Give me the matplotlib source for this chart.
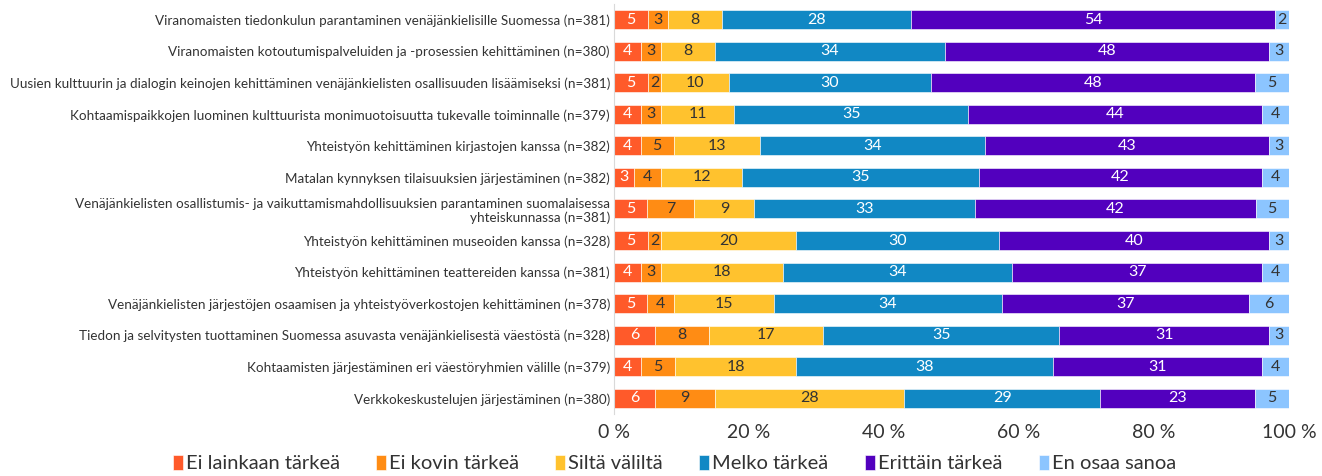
import matplotlib.pyplot as plt
import numpy as np

plt.rcParams['font.family'] = ['Lato', 'DejaVu Sans']

categories = [
    "Viranomaisten tiedonkulun parantaminen venäjänkielisille Suomessa (n=381)",
    "Viranomaisten kotoutumispalveluiden ja -prosessien kehittäminen (n=380)",
    "Uusien kulttuurin ja dialogin keinojen kehittäminen venäjänkielisten osallisuuden lisäämiseksi (n=381)",
    "Kohtaamispaikkojen luominen kulttuurista monimuotoisuutta tukevalle toiminnalle (n=379)",
    "Yhteistyön kehittäminen kirjastojen kanssa (n=382)",
    "Matalan kynnyksen tilaisuuksien järjestäminen (n=382)",
    "Venäjänkielisten osallistumis- ja vaikuttamismahdollisuuksien parantaminen suomalaisessa\nyhteiskunnassa (n=381)",
    "Yhteistyön kehittäminen museoiden kanssa (n=328)",
    "Yhteistyön kehittäminen teattereiden kanssa (n=381)",
    "Venäjänkielisten järjestöjen osaamisen ja yhteistyöverkostojen kehittäminen (n=378)",
    "Tiedon ja selvitysten tuottaminen Suomessa asuvasta venäjänkielisestä väestöstä (n=328)",
    "Kohtaamisten järjestäminen eri väestöryhmien välille (n=379)",
    "Verkkokeskustelujen järjestäminen (n=380)",
]

ei_lainkaan = [5, 4, 5, 4, 4, 3, 5, 5, 4, 5, 6, 4, 6]
ei_kovin = [3, 3, 2, 3, 5, 4, 7, 2, 3, 4, 8, 5, 9]
silta = [8, 8, 10, 11, 13, 12, 9, 20, 18, 15, 17, 18, 28]
melko = [28, 34, 30, 35, 34, 35, 33, 30, 34, 34, 35, 38, 29]
erittain = [54, 48, 48, 44, 43, 42, 42, 40, 37, 37, 31, 31, 23]
en_osaa = [2, 3, 5, 4, 3, 4, 5, 3, 4, 6, 3, 4, 5]

series_names = ["Ei lainkaan tärkeä", "Ei kovin tärkeä", "Siltä väliltä",
                "Melko tärkeä", "Erittäin tärkeä", "En osaa sanoa"]
colors = ["#FF5A2A", "#FF8C14", "#FFC22E", "#1188C4", "#5200BE", "#8CC5FF"]
text_colors = ["white", "#333333", "#333333", "white", "white", "#333333"]

data = np.array([ei_lainkaan, ei_kovin, silta, melko, erittain, en_osaa], dtype=float)
totals = data.sum(axis=0)
pct = data / totals * 100

fig = plt.figure(figsize=(13.22, 4.76), dpi=100)
ax = fig.add_axes([0.4645, 0.13, 0.5105, 0.862])

y = np.arange(len(categories))
left = np.zeros(len(categories))
for i in range(len(series_names)):
    ax.barh(y, pct[i], left=left, height=0.6, color=colors[i],
            edgecolor="white", linewidth=0.4, label=series_names[i])
    for j in range(len(categories)):
        ax.text(left[j] + pct[i][j] / 2, y[j], "%d" % data[i][j],
                ha="center", va="center", fontsize=11.5, color=text_colors[i])
    left += pct[i]

ax.set_ylim(len(categories) - 0.5, -0.5)
ax.set_xlim(0, 100)
ax.set_yticks(y)
ax.set_yticklabels(categories, fontsize=9.7, color="#333333")
ax.set_xticks([0, 20, 40, 60, 80, 100])
ax.set_xticklabels(["0 %", "20 %", "40 %", "60 %", "80 %", "100 %"],
                   fontsize=14, color="#333333")
ax.tick_params(axis="both", length=0)
ax.tick_params(axis="x", pad=7)
ax.tick_params(axis="y", pad=3)
for s in ["top", "right", "bottom"]:
    ax.spines[s].set_visible(False)
ax.spines["left"].set_color("#d9d9d9")

fig.legend(loc="center", bbox_to_anchor=(0.51, 0.026), ncol=6, frameon=False,
           fontsize=14.5, handlelength=0.5, handleheight=0.8, handletextpad=0.15,
           columnspacing=1.8, labelcolor="#333333")

fig.savefig("out.png", dpi=100)
